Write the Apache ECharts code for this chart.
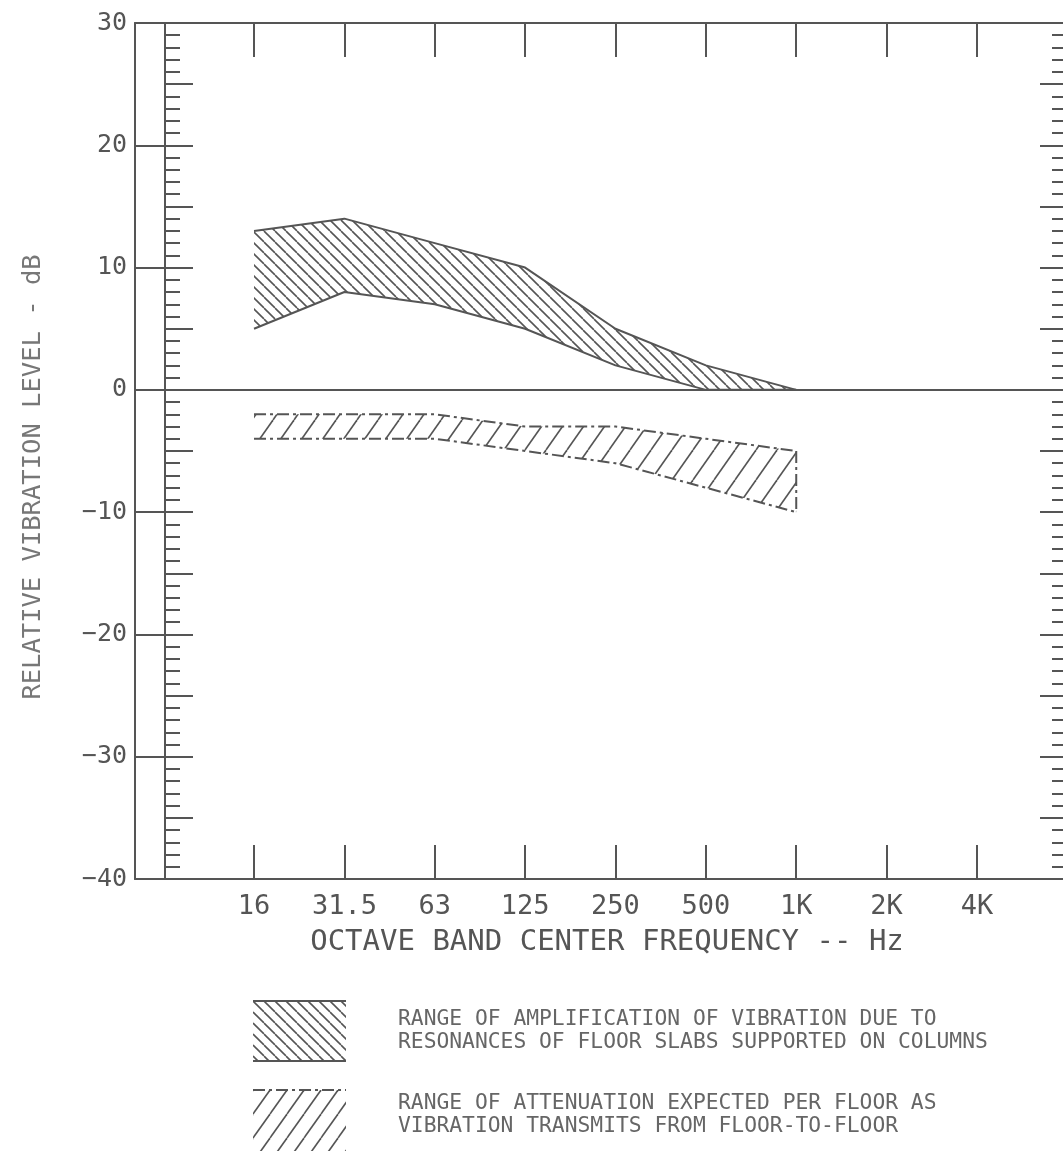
<!DOCTYPE html>
<html>
<head>
<meta charset="utf-8">
<title>Relative vibration level</title>
<script src="https://cdn.jsdelivr.net/npm/echarts@6/dist/echarts.min.js"></script>
<style>
  html, body { margin: 0; padding: 0; background: #ffffff; }
  #chart { width: 1063px; height: 1151px; }
</style>
</head>
<body>
<div id="chart"></div>
<script>
// octave band centre frequencies (x categories)
const freqLabels = ["16", "31.5", "63", "125", "250", "500", "1K", "2K", "4K"];
// amplification band, dB (16 Hz .. 1K)
const ampUpper = [13, 14, 12, 10, 5, 2, 0];
const ampLower = [5, 8, 7, 5, 2, 0, 0];
// attenuation band, dB (16 Hz .. 1K)
const attUpper = [-2, -2, -2, -3, -3, -4, -5];
const attLower = [-4, -4, -4, -5, -6, -8, -10];
// y axis range
const yMin = -40;
const yMax = 30;

const ink = "#555555";
const mono = "DejaVu Sans Mono";
const dashDot = [12, 4, 3, 4];

// hatch fill made from a small canvas tile
function hatch(w, h, dir, lw) {
  const c = document.createElement("canvas");
  c.width = w;
  c.height = h;
  const ctx = c.getContext("2d");
  ctx.strokeStyle = ink;
  ctx.lineWidth = lw;
  for (let k = -1; k <= 1; k++) {
    ctx.beginPath();
    if (dir === "back") {
      ctx.moveTo(k * w, 0);
      ctx.lineTo(k * w + w, h);
    } else {
      ctx.moveTo(k * w, h);
      ctx.lineTo(k * w + w, 0);
    }
    ctx.stroke();
  }
  return { image: c, repeat: "repeat" };
}

const ampFill = hatch(11, 11, "back", 1.6);
const attFill = hatch(21, 30, "fwd", 1.6);
const attFillLegend = hatch(17, 24, "fwd", 1.6);

function toPoints(vals) {
  return vals.map(function (v, i) { return [i, v]; });
}

function bandSeries(upper, lower, fill) {
  return {
    type: "custom",
    silent: true,
    z: 1,
    data: [[0, 0]],
    renderItem: function (params, api) {
      const pts = [];
      for (let i = 0; i < upper.length; i++) pts.push(api.coord([i, upper[i]]));
      for (let i = lower.length - 1; i >= 0; i--) pts.push(api.coord([i, lower[i]]));
      return {
        type: "polygon",
        shape: { points: pts },
        style: { fill: fill, stroke: null }
      };
    }
  };
}

function edgeSeries(vals, type) {
  return {
    type: "line",
    silent: true,
    z: 3,
    symbol: "none",
    data: toPoints(vals),
    lineStyle: { color: ink, width: 2, type: type }
  };
}

const catIdx = freqLabels.map(function (f, i) { return i; });
const last = attUpper.length - 1;
const axisLine = { show: true, onZero: false, lineStyle: { color: ink, width: 2 } };

const chart = echarts.init(document.getElementById("chart"));

const option = {
  backgroundColor: "#ffffff",
  animation: false,
  grid: {
    left: 135,
    top: 23,
    right: -1,
    bottom: 272,
    containLabel: false,
    outerBoundsMode: "none"
  },
  xAxis: [
    {
      type: "value",
      position: "bottom",
      min: -1.317,
      max: 8.963,
      name: "OCTAVE BAND CENTER FREQUENCY -- Hz",
      nameLocation: "middle",
      nameGap: 49,
      nameTextStyle: { fontFamily: mono, fontSize: 29, color: ink, padding: [0, 0, 0, 15] },
      axisLine: axisLine,
      axisTick: { show: true, inside: true, length: 34, customValues: catIdx, lineStyle: { color: ink, width: 2 } },
      axisLabel: {
        show: true,
        customValues: catIdx,
        margin: 14,
        fontFamily: mono,
        fontSize: 27,
        color: ink,
        formatter: function (v) { return freqLabels[Math.round(v)]; }
      },
      splitLine: { show: false }
    },
    {
      type: "value",
      position: "top",
      min: -1.317,
      max: 8.963,
      axisLine: axisLine,
      axisTick: { show: true, inside: true, length: 34, customValues: catIdx, lineStyle: { color: ink, width: 2 } },
      axisLabel: { show: false },
      splitLine: { show: false }
    }
  ],
  yAxis: [
    {
      // outer left axis with labels
      type: "value",
      position: "left",
      min: yMin,
      max: yMax,
      interval: 10,
      name: "RELATIVE VIBRATION LEVEL - dB",
      nameLocation: "middle",
      nameGap: 89,
      nameTextStyle: { fontFamily: mono, fontSize: 25.5, color: "#777777", padding: [0, 52, 0, 0] },
      axisLine: axisLine,
      axisTick: { show: true, inside: true, length: 58, lineStyle: { color: ink, width: 2 } },
      axisLabel: {
        margin: 8,
        fontFamily: mono,
        fontSize: 25,
        color: ink,
        formatter: function (v) { return String(v).replace("-", "\u2212"); }
      },
      splitLine: { show: false }
    },
    {
      // inner ruler
      type: "value",
      position: "left",
      offset: -30,
      min: yMin,
      max: yMax,
      interval: 5,
      axisLine: axisLine,
      axisTick: { show: true, inside: true, length: 28, lineStyle: { color: ink, width: 2 } },
      minorTick: { show: true, splitNumber: 5, length: 15, lineStyle: { color: ink, width: 2 } },
      axisLabel: { show: false },
      splitLine: { show: false }
    },
    {
      // right ruler
      type: "value",
      position: "right",
      min: yMin,
      max: yMax,
      interval: 5,
      axisLine: axisLine,
      axisTick: { show: true, inside: true, length: 24, lineStyle: { color: ink, width: 2 } },
      minorTick: { show: true, splitNumber: 5, length: 12, lineStyle: { color: ink, width: 2 } },
      axisLabel: { show: false },
      splitLine: { show: false }
    }
  ],
  series: [
    bandSeries(ampUpper, ampLower, ampFill),
    bandSeries(attUpper, attLower, attFill),
    Object.assign(edgeSeries(ampUpper, "solid"), {
      markLine: {
        silent: true,
        symbol: "none",
        label: { show: false },
        lineStyle: { color: ink, width: 2, type: "solid" },
        data: [{ yAxis: 0 }]
      }
    }),
    edgeSeries(ampLower, "solid"),
    edgeSeries(attUpper, dashDot),
    edgeSeries(attLower, dashDot),
    {
      type: "line",
      silent: true,
      z: 3,
      symbol: "none",
      data: [[last, attUpper[last]], [last, attLower[last]]],
      lineStyle: { color: ink, width: 2, type: dashDot }
    }
  ],
  graphic: [
    // legend: amplification
    { type: "rect", left: 253, top: 1001, shape: { width: 93, height: 60 }, style: { fill: ampFill }, silent: true },
    { type: "line", shape: { x1: 253, y1: 1001, x2: 346, y2: 1001 }, style: { stroke: ink, lineWidth: 2 }, silent: true },
    { type: "line", shape: { x1: 253, y1: 1061, x2: 346, y2: 1061 }, style: { stroke: ink, lineWidth: 2 }, silent: true },
    {
      type: "text", left: 398, top: 1008, silent: true,
      style: {
        text: "RANGE OF AMPLIFICATION OF VIBRATION DUE TO\nRESONANCES OF FLOOR SLABS SUPPORTED ON COLUMNS",
        font: "21.3px 'DejaVu Sans Mono'", fill: "#666666", lineHeight: 23
      }
    },
    // legend: attenuation
    { type: "rect", left: 253, top: 1090, shape: { width: 93, height: 61 }, style: { fill: attFillLegend }, silent: true },
    { type: "line", shape: { x1: 253, y1: 1090, x2: 346, y2: 1090 }, style: { stroke: ink, lineWidth: 2, lineDash: dashDot }, silent: true },
    {
      type: "text", left: 398, top: 1092, silent: true,
      style: {
        text: "RANGE OF ATTENUATION EXPECTED PER FLOOR AS\nVIBRATION TRANSMITS FROM FLOOR-TO-FLOOR",
        font: "21.3px 'DejaVu Sans Mono'", fill: "#666666", lineHeight: 23
      }
    }
  ]
};

chart.setOption(option);
</script>
</body>
</html>
